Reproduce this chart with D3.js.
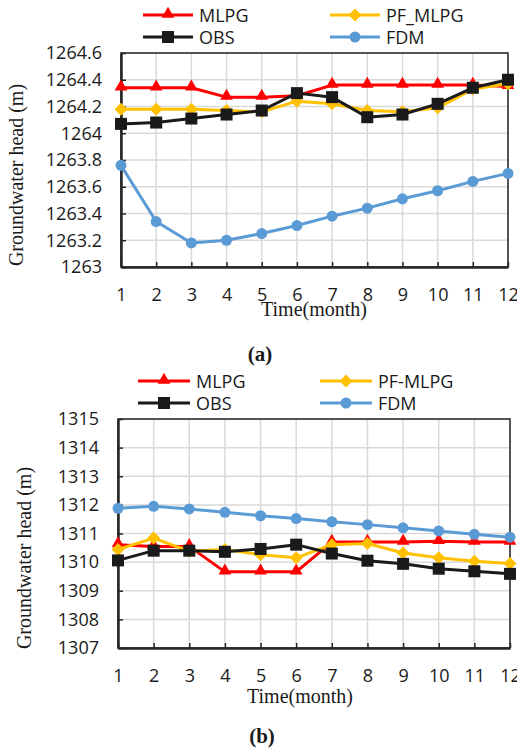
<!DOCTYPE html>
<html>
<head>
<meta charset="utf-8">
<script src="https://cdn.jsdelivr.net/npm/d3@7"></script>
<style>
  body { margin: 0; background: #fff; }
  svg { display: block; }
</style>
</head>
<body>
<script>
const WIDTH  = 517;
const HEIGHT = 749;

// Months on the x axis
const months = [1, 2, 3, 4, 5, 6, 7, 8, 9, 10, 11, 12];

// Panel (a) values
const mlpgA   = [1264.34, 1264.34, 1264.34, 1264.27, 1264.27, 1264.28, 1264.36, 1264.36, 1264.36, 1264.36, 1264.36, 1264.35];
const pfMlpgA = [1264.18, 1264.18, 1264.18, 1264.17, 1264.16, 1264.24, 1264.22, 1264.17, 1264.16, 1264.19, 1264.33, 1264.37];
const obsA    = [1264.07, 1264.08, 1264.11, 1264.14, 1264.17, 1264.30, 1264.27, 1264.12, 1264.14, 1264.22, 1264.34, 1264.40];
const fdmA    = [1263.76, 1263.34, 1263.18, 1263.20, 1263.25, 1263.31, 1263.38, 1263.44, 1263.51, 1263.57, 1263.64, 1263.70];
const yTicksA = [1263, 1263.2, 1263.4, 1263.6, 1263.8, 1264, 1264.2, 1264.4, 1264.6];

// Panel (b) values
const mlpgB   = [1310.61, 1310.55, 1310.55, 1309.66, 1309.66, 1309.66, 1310.70, 1310.70, 1310.70, 1310.73, 1310.70, 1310.70];
const pfMlpgB = [1310.44, 1310.84, 1310.38, 1310.44, 1310.26, 1310.15, 1310.61, 1310.65, 1310.32, 1310.15, 1310.03, 1309.95];
const obsB    = [1310.06, 1310.40, 1310.40, 1310.36, 1310.46, 1310.61, 1310.30, 1310.05, 1309.94, 1309.77, 1309.68, 1309.59];
const fdmB    = [1311.88, 1311.95, 1311.86, 1311.74, 1311.62, 1311.52, 1311.41, 1311.31, 1311.20, 1311.09, 1310.97, 1310.87];
const yTicksB = [1307, 1308, 1309, 1310, 1311, 1312, 1313, 1314, 1315];

const COLORS  = { mlpg: "#ff0000", pf: "#ffc000", obs: "#1a1a1a", fdm: "#5b9bd5" };
const SANS    = "'Open Sans', 'Liberation Sans', sans-serif";
const SERIF   = "'Liberation Serif', 'Times New Roman', serif";

const svg = d3.select("body").append("svg")
    .attr("width", WIDTH)
    .attr("height", HEIGHT);

function drawMarker(g, shape, color, x, y) {
  if (shape === "triangle") {
    g.append("path")
      .attr("d", d3.symbol().type(d3.symbolTriangle).size(70)())
      .attr("transform", "translate(" + x + "," + (y - 1) + ")")
      .attr("fill", color);
  } else if (shape === "diamond") {
    g.append("path")
      .attr("d", "M0,-6.5L6.5,0L0,6.5L-6.5,0Z")
      .attr("transform", "translate(" + x + "," + y + ")")
      .attr("fill", color);
  } else if (shape === "square") {
    g.append("rect")
      .attr("x", x - 6).attr("y", y - 6)
      .attr("width", 12).attr("height", 12)
      .attr("fill", color);
  } else {
    g.append("circle")
      .attr("cx", x).attr("cy", y).attr("r", 5.5)
      .attr("fill", color);
  }
}

function drawPanel(p) {
  const g = svg.append("g");
  const x = d3.scaleLinear().domain([1, 12]).range([p.left, p.right]);
  const y = d3.scaleLinear().domain(d3.extent(p.yTicks)).range([p.bottom, p.top]);

  // grid
  g.append("g").selectAll("line.h").data(p.yTicks).enter().append("line")
      .attr("x1", p.left).attr("x2", p.right)
      .attr("y1", d => y(d)).attr("y2", d => y(d))
      .attr("stroke", "#d9d9d9").attr("stroke-width", 1.5);
  g.append("g").selectAll("line.v").data(months).enter().append("line")
      .attr("x1", d => x(d)).attr("x2", d => x(d))
      .attr("y1", p.top).attr("y2", p.bottom)
      .attr("stroke", "#d9d9d9").attr("stroke-width", 1.5);

  // frame
  g.append("rect")
      .attr("x", p.left).attr("y", p.top)
      .attr("width", p.right - p.left).attr("height", p.bottom - p.top)
      .attr("fill", "none").attr("stroke", "#262626").attr("stroke-width", 1.5);

  // axes, ticks pointing inwards
  const xAxis = d3.axisBottom(x).tickValues(months).tickSizeInner(-5).tickSizeOuter(0).tickPadding(21);
  const yAxis = d3.axisLeft(y).tickValues(p.yTicks).tickSizeInner(-5).tickSizeOuter(0).tickPadding(19)
      .tickFormat(d3.format("~f"));

  const gx = g.append("g")
      .attr("transform", "translate(0," + p.bottom + ")")
      .call(xAxis);
  const gy = g.append("g")
      .attr("transform", "translate(" + p.left + ",0)")
      .call(yAxis);
  [gx, gy].forEach(a => {
    a.select(".domain").attr("stroke", "#262626").attr("stroke-width", 2.5);
    a.selectAll(".tick line").attr("stroke", "#262626").attr("stroke-width", 1.5);
    a.selectAll(".tick text")
      .attr("fill", "#1a1a1a")
      .style("font-family", SANS)
      .style("font-size", "18px");
  });

  // series
  const line = d3.line().x((d, i) => x(months[i])).y(d => y(d));
  p.series.forEach(s => {
    g.append("path")
      .datum(s.values)
      .attr("d", line)
      .attr("fill", "none")
      .attr("stroke", s.color)
      .attr("stroke-width", 3)
      .attr("stroke-linejoin", "round");
    s.values.forEach((v, i) => drawMarker(g, s.shape, s.color, x(months[i]), y(v)));
  });

  // axis titles
  g.append("text")
      .attr("transform", "translate(" + p.yLabelX + "," + p.yLabelY + ") rotate(-90)")
      .attr("text-anchor", "middle")
      .style("font-family", SERIF)
      .style("font-size", "20px")
      .attr("fill", "#1a1a1a")
      .text("Groundwater head (m)");
  g.append("text")
      .attr("x", p.xLabelX).attr("y", p.xLabelY)
      .attr("text-anchor", "middle")
      .style("font-family", SERIF)
      .style("font-size", "20px")
      .attr("fill", "#1a1a1a")
      .text("Time(month)");

  // legend
  p.series.forEach((s, i) => {
    const col = i % 2, row = Math.floor(i / 2);
    const lx = p.legendX[col], ly = p.legendY[row];
    g.append("line")
      .attr("x1", lx).attr("x2", lx + p.legendLen)
      .attr("y1", ly).attr("y2", ly)
      .attr("stroke", s.color).attr("stroke-width", 3);
    drawMarker(g, s.shape, s.color, lx + p.legendLen / 2, ly);
    g.append("text")
      .attr("x", lx + p.legendLen + 6).attr("y", ly + 6.5)
      .style("font-family", SANS)
      .style("font-size", "18px")
      .attr("fill", "#1a1a1a")
      .text(s.name);
  });

  // panel caption
  g.append("text")
      .attr("x", p.capX).attr("y", p.capY)
      .attr("text-anchor", "middle")
      .style("font-family", SERIF)
      .style("font-size", "21px")
      .style("font-weight", "bold")
      .attr("fill", "#1a1a1a")
      .text(p.caption);
}

drawPanel({
  left: 121, right: 508, top: 53, bottom: 267,
  yTicks: yTicksA,
  yLabelX: 23, yLabelY: 175,
  xLabelX: 314, xLabelY: 316,
  legendX: [143, 330], legendY: [15, 37], legendLen: 50,
  capX: 260, capY: 361, caption: "(a)",
  series: [
    { name: "MLPG",    values: mlpgA,   color: COLORS.mlpg, shape: "triangle" },
    { name: "PF_MLPG", values: pfMlpgA, color: COLORS.pf,   shape: "diamond" },
    { name: "OBS",     values: obsA,    color: COLORS.obs,  shape: "square" },
    { name: "FDM",     values: fdmA,    color: COLORS.fdm,  shape: "circle" }
  ]
});

drawPanel({
  left: 118, right: 510, top: 419, bottom: 648,
  yTicks: yTicksB,
  yLabelX: 31, yLabelY: 558,
  xLabelX: 300, xLabelY: 703,
  legendX: [138, 320], legendY: [381, 403], legendLen: 52,
  capX: 262, capY: 743, caption: "(b)",
  series: [
    { name: "MLPG",    values: mlpgB,   color: COLORS.mlpg, shape: "triangle" },
    { name: "PF-MLPG", values: pfMlpgB, color: COLORS.pf,   shape: "diamond" },
    { name: "OBS",     values: obsB,    color: COLORS.obs,  shape: "square" },
    { name: "FDM",     values: fdmB,    color: COLORS.fdm,  shape: "circle" }
  ]
});
</script>
</body>
</html>
